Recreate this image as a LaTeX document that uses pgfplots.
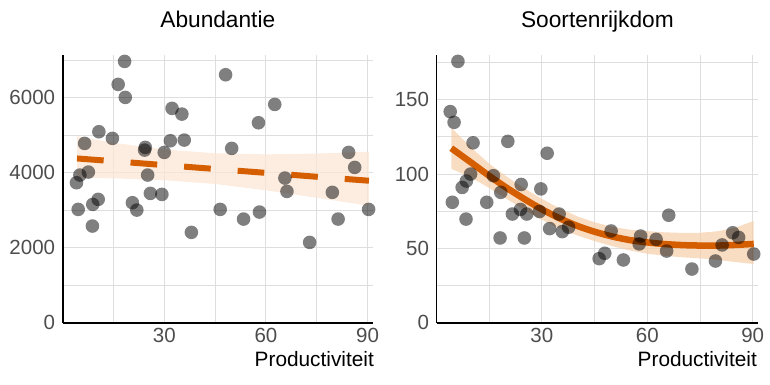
\documentclass[border=0pt]{standalone}
\usepackage{fontspec}
\setmainfont{Liberation Sans}
\usepackage{pgfplots}
\pgfplotsset{compat=1.18}
\definecolor{verm}{RGB}{213,94,0}
\definecolor{bandL}{RGB}{251,231,214}
\definecolor{bandR}{RGB}{245,206,169}
\definecolor{tickgray}{RGB}{77,77,77}
\definecolor{gridc}{RGB}{222,222,222}
\pgfplotsset{myax/.style={
  scale only axis, clip=false,
  axis lines=left, axis line style={-, line width=1.8pt, black},
  xmin=0, xmax=91.6, ymin=0,
  xtick={30,60,90}, minor xtick={15,45,75},
  grid=both,
  major grid style={gridc, line width=1.1pt},
  minor grid style={gridc, line width=0.8pt},
  major tick length=0pt, minor tick length=0pt,
  /pgf/number format/assume math mode=true,
  /pgf/number format/set thousands separator={},
  scaled ticks=false,
  ticklabel style={font=\fontsize{20.5}{20.5}\selectfont, text=tickgray, inner sep=0pt},
  xticklabel style={anchor=north, yshift=-5.6pt},
  yticklabel style={anchor=east, xshift=-7.3pt},
}}
\pgfplotsset{pts/.style={only marks, mark=*, mark size=6.8pt, draw=none, fill=black,
  mark options={draw=none, draw opacity=0, fill=black, fill opacity=0.5}}}
\begin{document}
\begin{tikzpicture}
\path[use as bounding box] (0,0) rectangle (770pt,385pt);
% ---------- Abundantie ----------
\begin{axis}[myax, at={(62.6pt,62.3pt)}, anchor=south west,
  width=310.4pt, height=267.7pt, ymax=7140,
  ytick={0,2000,4000,6000}, minor ytick={1000,3000,5000,7000}]
\addplot[draw=none, fill=bandL, fill opacity=0.75] coordinates {
 (4.25,4975) (15,4800) (30,4620) (45,4520) (60,4490) (75,4510) (90.4,4560)
 (90.4,3120) (75,3330) (60,3530) (45,3700) (30,3800) (15,3850) (4.25,3870)} -- cycle;
\addplot[verm, line width=6pt, line cap=butt, dash pattern=on 26.7pt off 27pt] coordinates {(4.25,4381) (90.4,3786)};
\addplot[pts] coordinates {
 (4.1,3733) (5.1,3938) (4.6,3022) (6.5,4782) (7.6,4018) (8.8,2578) (8.9,3156)
 (10.5,3289) (10.7,5093) (14.7,4916) (16.4,6356) (18.3,6969) (18.5,6009)
 (20.6,3200) (21.9,3004) (24.4,4676) (24.2,4604) (25.1,3938) (25.9,3449)
 (29.3,3422) (30.0,4542) (31.8,4853) (32.3,5716) (35.2,5564) (35.9,4871)
 (38.0,2409) (46.5,3022) (48.1,6613) (49.9,4649) (53.4,2764) (57.8,5333)
 (58.1,2951) (62.6,5822) (65.6,3858) (66.2,3502) (72.9,2142) (79.6,3476)
 (81.3,2764) (84.4,4542) (86.2,4142) (90.3,3022)};
\end{axis}
% ---------- Soortenrijkdom ----------
\begin{axis}[myax, at={(436.5pt,62.3pt)}, anchor=south west,
  width=321.8pt, height=267.7pt, ymax=180.1,
  ytick={0,50,100,150}, minor ytick={25,75,125,175}]
\addplot[draw=none, fill=bandR, fill opacity=0.7] coordinates {
 (4.2,131.2) (10,117.5) (15,107.0) (20,98.2) (25,90.4) (30,83.3) (35,77.0)
 (40,71.6) (45,67.5) (50,64.5) (55,62.6) (60,61.6) (65,60.8) (70,60.4)
 (75,60.5) (80,61.5) (85,63.8) (90.3,68.5)
 (90.3,39.5) (85,40.8) (80,42.3) (75,43.3) (70,44.0) (65,45.0) (60,46.4)
 (55,48.6) (50,51.5) (45,54.9) (40,58.8) (35,63.6) (30,69.3) (25,76.0)
 (20,83.2) (15,90.6) (10,97.5) (4.2,103.6)} -- cycle;
\addplot[verm, line width=6.5pt, smooth] coordinates {
 (4.2,117.4) (10,107.5) (15,98.8) (20,90.7) (25,83.2) (30,76.3) (35,70.3)
 (40,65.2) (45,61.2) (50,58) (55,55.6) (60,54) (65,52.9) (70,52.2)
 (75,51.9) (80,51.9) (85,52.3) (90.3,53)};
\addplot[pts] coordinates {
 (3.9,142) (5.0,134.8) (6.1,175.8) (4.5,81) (7.3,91) (8.5,95.3) (9.7,100)
 (8.4,69.7) (10.4,121) (14.3,81) (16.2,98.9) (18.3,87.7) (18.1,57)
 (20.3,122) (21.6,73.1) (24.1,93) (23.9,76.2) (25.0,57) (25.7,73.1)
 (29.7,90) (29.3,74.8) (31.5,114) (32.2,63.3) (34.9,73.1) (35.8,61.3)
 (37.6,64.2) (46.3,43.1) (47.9,46.7) (49.7,61.7) (53.2,42.2) (58.1,58.3)
 (57.7,53) (62.5,56.1) (65.5,48.2) (66.1,72.3) (72.7,36.1) (79.4,41.5)
 (81.3,52.3) (84.3,60.5) (86.0,57.4) (90.3,46.2)};
\end{axis}
\node[anchor=base, inner sep=0pt, font=\fontsize{22.7}{22.7}\selectfont] at (217.8pt,357pt) {Abundantie};
\node[anchor=base, inner sep=0pt, font=\fontsize{22.7}{22.7}\selectfont] at (597.4pt,357pt) {Soortenrijkdom};
\node[anchor=base east, inner sep=0pt, font=\fontsize{20.8}{20.8}\selectfont] at (374pt,18.1pt) {Productiviteit};
\node[anchor=base east, inner sep=0pt, font=\fontsize{20.8}{20.8}\selectfont] at (757pt,18.1pt) {Productiviteit};
\end{tikzpicture}
\end{document}
